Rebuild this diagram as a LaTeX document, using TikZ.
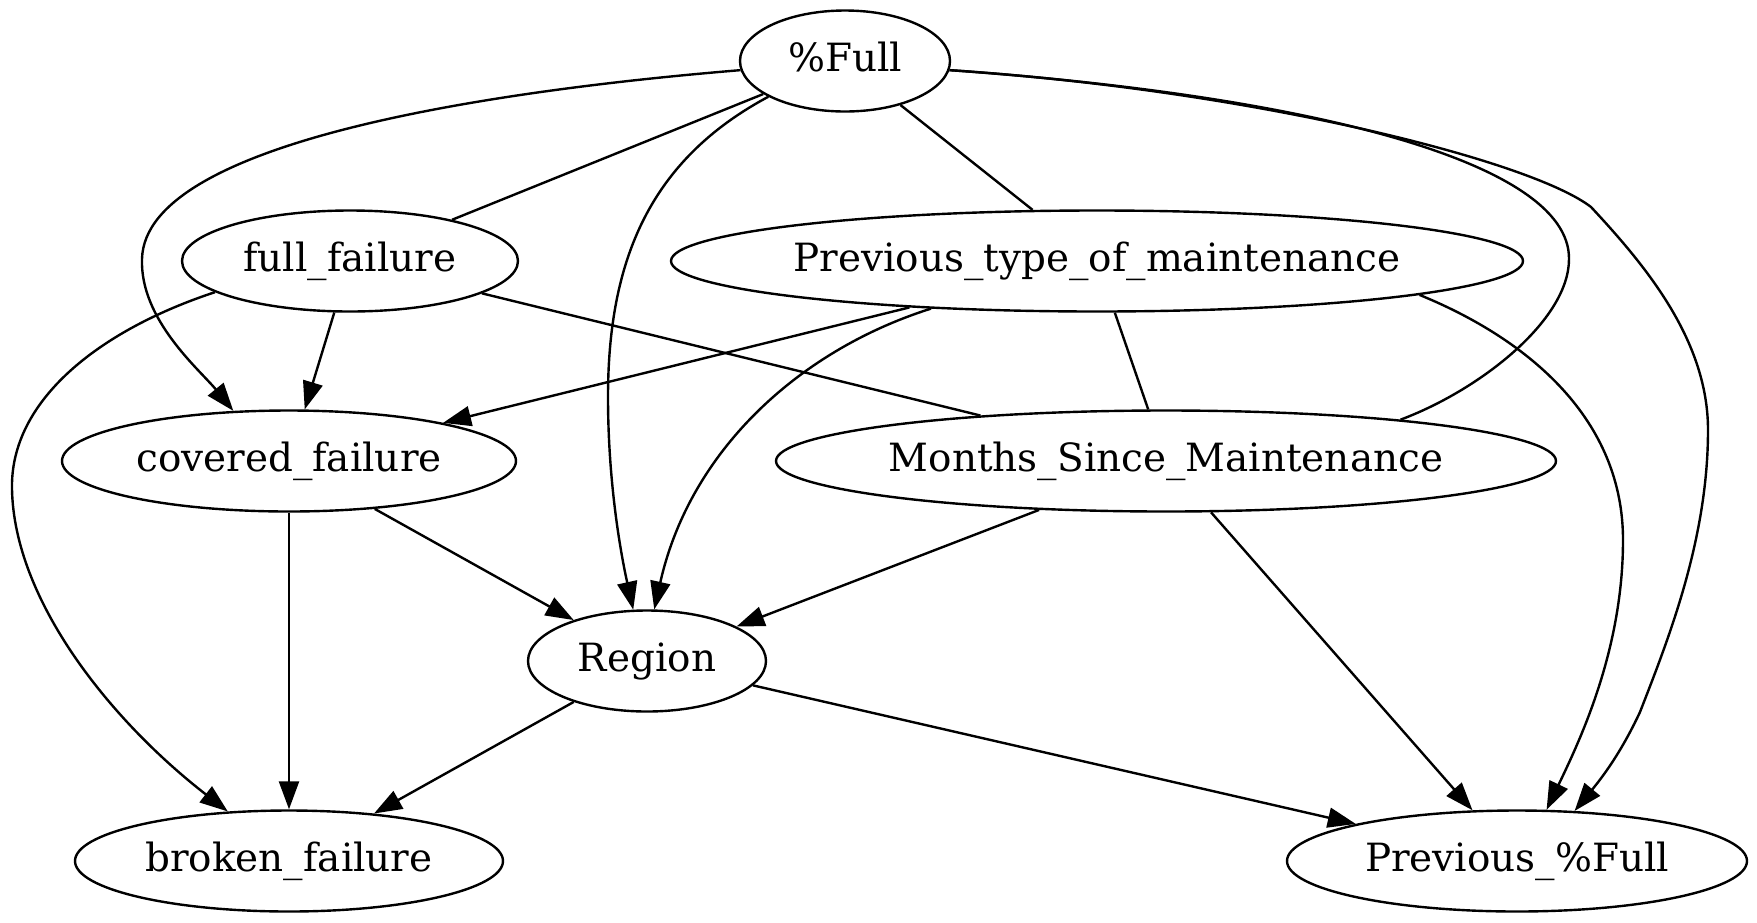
\documentclass[tikz,border=0pt]{standalone}
\usepackage{fontspec}
\setmainfont{DejaVu Serif}
\usetikzlibrary{arrows.meta,shapes.geometric}
\begin{document}
\begin{tikzpicture}[x=1pt,y=-1pt,
  nd/.style={draw, ellipse, inner xsep=-20pt, inner ysep=0pt, line width=2.4pt,
    minimum height=101pt, text height=29pt, text depth=9pt,
    font=\fontsize{38.9}{46}\selectfont},
  edge/.style={line width=2.4pt, -{Triangle[length=28pt,width=20pt]}},
  und/.style={line width=2.4pt}]
\useasboundingbox (0,0) rectangle (1757,922);
\node[nd, minimum width=210pt] (full) at (845,61) {\%Full};
\node[nd, minimum width=336pt] (ff) at (350,261) {full\_failure};
\node[nd, minimum width=852pt] (ptm) at (1097,261) {Previous\_type\_of\_maintenance};
\node[nd, minimum width=454pt] (cov) at (289,461) {covered\_failure};
\node[nd, minimum width=780pt] (msm) at (1166,461) {Months\_Since\_Maintenance};
\node[nd, minimum width=238pt] (reg) at (647,661) {Region};
\node[nd, minimum width=428pt] (brk) at (289,861) {broken\_failure};
\node[nd, minimum width=460pt] (pf) at (1517,861) {Previous\_\%Full};
% undirected
\draw[und] (full) -- (ff);
\draw[und] (full) -- (ptm);
\draw[und] (ff) -- (msm);
\draw[und] (ptm) -- (msm);
\draw[und] (full.-5) .. controls (1300,95) and (1570,160) .. (1569,259)
  .. controls (1569,320) and (1480,390) .. (msm.10);
% directed straight
\draw[edge] (ff) -- (cov);
\draw[edge] (ptm) -- (cov);
\draw[edge] (cov) -- (brk);
\draw[edge] (cov) -- (reg);
\draw[edge] (msm) -- (reg);
\draw[edge] (msm) -- (pf);
\draw[edge] (reg) -- (brk);
\draw[edge] (reg) -- (pf);
% directed curves
\draw[edge] (full.185) .. controls (500,90) and (145,140) .. (142,259)
  .. controls (140,320) and (200,370) .. (cov.138);
\draw[edge] (full.205) .. controls (650,160) and (608,260) .. (608,397)
  .. controls (608,480) and (620,550) .. (reg.105);
\draw[edge] (full.-5) .. controls (1250,90) and (1530,160) .. (1591,207)
  .. controls (1645,265) and (1708,340) .. (1708,430)
  .. controls (1708,540) and (1668,640) .. (1640,712)
  .. controls (1620,755) and (1600,780) .. (pf.41);
\draw[edge] (ff.193) .. controls (100,330) and (10,400) .. (12,489)
  .. controls (14,600) and (110,720) .. (brk.141);
\draw[edge] (ptm.196) .. controls (800,350) and (690,450) .. (reg.82);
\draw[edge] (ptm.-6) .. controls (1530,340) and (1623,420) .. (1623,540)
  .. controls (1623,650) and (1580,740) .. (pf.60);
\end{tikzpicture}
\end{document}
